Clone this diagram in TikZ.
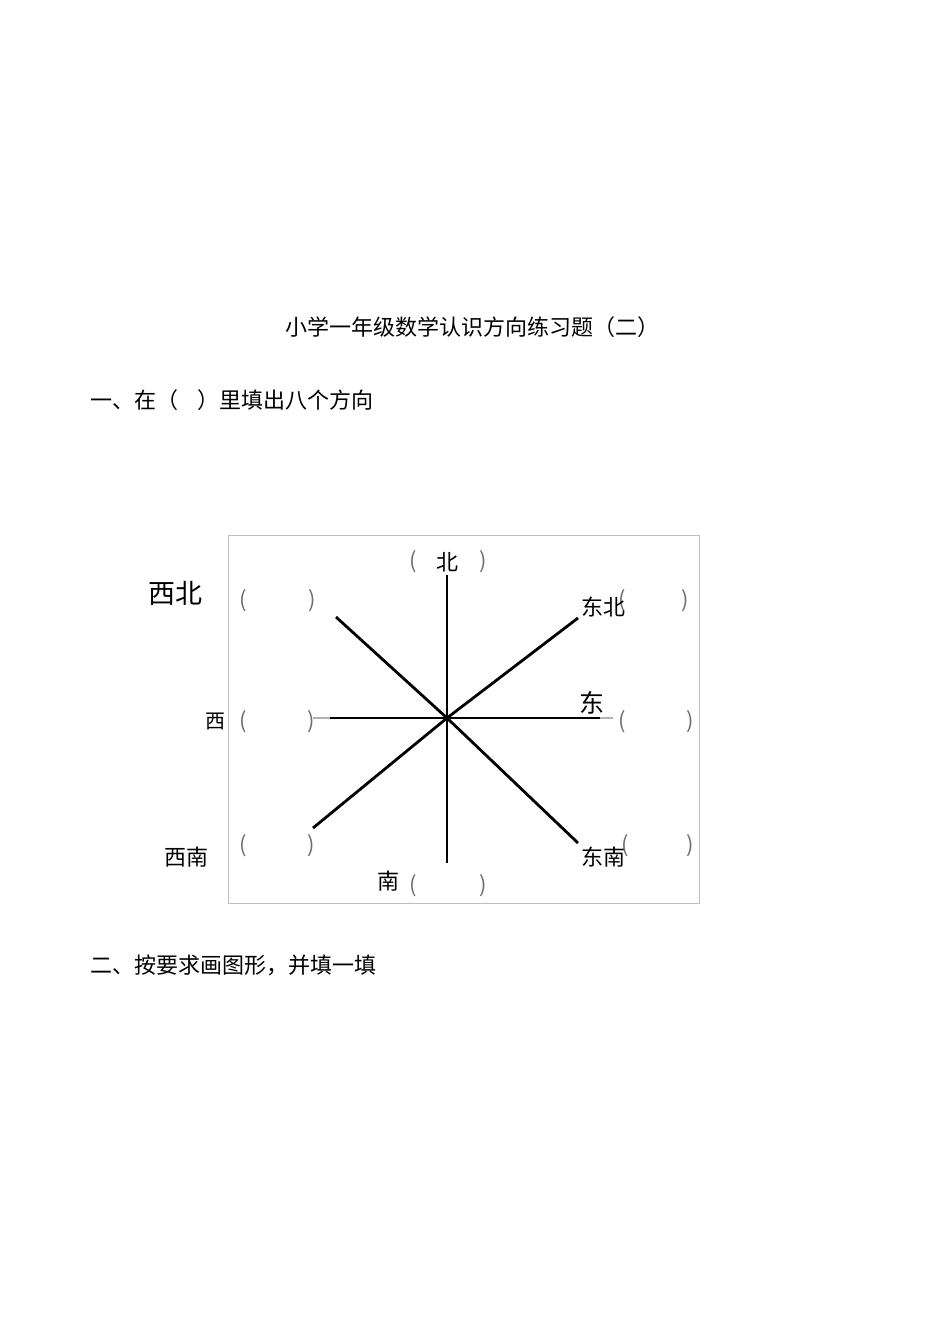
\documentclass[tikz,border=0pt]{standalone}
\usepackage{fontspec}
\setmainfont{Noto Sans CJK SC}
\newfontfamily\cjk{Noto Sans CJK SC}
\definecolor{parengray}{RGB}{110,110,110}
\definecolor{framegray}{RGB}{190,190,190}
\tikzset{
  hd/.style={font=\cjk\fontsize{22}{26}\selectfont, anchor=west, inner sep=0pt},
  lbl/.style={font=\cjk\fontsize{#1}{#1}\selectfont, inner sep=0pt},
  par/.style={font=\fontsize{22}{22}\selectfont, text=parengray, inner sep=0pt},
  ray/.style={line width=2.8pt, black},
}
\begin{document}
\begin{tikzpicture}[x=1pt,y=-1pt]
\useasboundingbox[fill=white] (0,0) rectangle (950,1344);
% headings
\node[lbl=22] (title) at (472,327) {小学一年级数学认识方向练习题（二）};
\node[hd] (q1) at (90,400) {一、在（\hspace{0.9em}）里填出八个方向};
\node[hd] (q2) at (90,965) {二、按要求画图形，并填一填};
% frame
\draw[framegray, line width=1pt] (228,535) rectangle (699,903);
% rays
\coordinate (c) at (447,718);
\coordinate (n) at (447,575);
\coordinate (s) at (447,863);
\coordinate (w) at (330,718);
\coordinate (wg) at (313,718);
\coordinate (e) at (600,718);
\coordinate (eg) at (613,718);
\coordinate (ne) at (578,618);
\coordinate (nw) at (336,617);
\coordinate (sw) at (313,828);
\coordinate (se) at (578,843);
\draw[line width=2.8pt, gray!60] (wg) -- (w);
\draw[line width=2.8pt, gray!60] (e) -- (eg);
\draw[ray] (n) -- (s);
\draw[ray] (w) -- (e);
\draw[ray] (nw) -- (c) -- (se);
\draw[ray] (sw) -- (c) -- (ne);
% parentheses
\node[par] (pn1) at (413,562) {(};
\node[par] (pn2) at (483,562) {)};
\node[par] (pnw1) at (243,601) {(};
\node[par] (pnw2) at (312,601) {)};
\node[par] (pne1) at (622,601) {(};
\node[par] (pne2) at (685,601) {)};
\node[par] (pw1) at (243,722) {(};
\node[par] (pw2) at (311,722) {)};
\node[par] (pe1) at (622,722) {(};
\node[par] (pe2) at (690,722) {)};
\node[par] (psw1) at (243,846) {(};
\node[par] (psw2) at (311,846) {)};
\node[par] (pse1) at (625,846) {(};
\node[par] (pse2) at (690,846) {)};
\node[par] (ps1) at (413,886) {(};
\node[par] (ps2) at (483,886) {)};
% direction words
\node[lbl=22] (tn) at (447,562) {北};
\node[lbl=27] (tnw) at (175,593) {西北};
\node[lbl=22] (tne) at (603,607) {东北};
\node[lbl=20] (tw) at (215,721) {西};
\node[lbl=25] (te) at (592,703) {东};
\node[lbl=22] (tsw) at (186,857) {西南};
\node[lbl=22] (ts) at (388,881) {南};
\node[lbl=22] (tse) at (603,857) {东南};
\end{tikzpicture}
\end{document}
